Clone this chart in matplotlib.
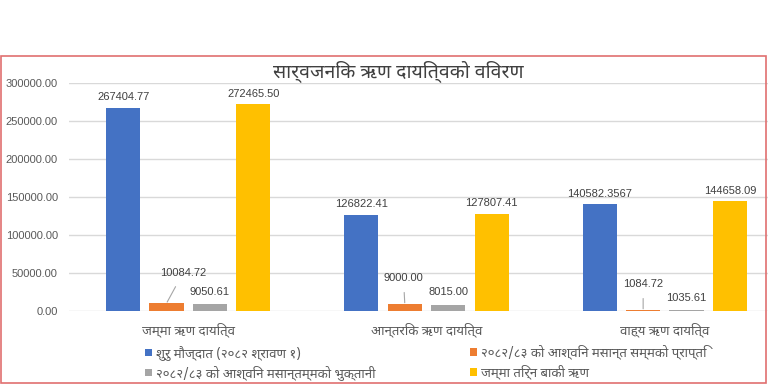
import matplotlib
matplotlib.use("Agg")
import matplotlib.pyplot as plt
from matplotlib import font_manager
from matplotlib.ft2font import FT2Font
from matplotlib.patches import Rectangle
import numpy as np

categories = ["जम्मा ऋण दायित्व", "आन्तरिक ऋण दायित्व", "वाह्य ऋण दायित्व"]
series_names = ["शुरु मौज्दात (२०८२ श्रावण १)",
                "२०८२/८३ को आश्विन मसान्त सम्मको प्राप्ति",
                "२०८२/८३ को आश्विन मसान्तम्मको भुक्तानी",
                "जम्मा तिर्न बाकी ऋण"]
opening = [267404.77, 126822.41, 140582.3567]
received = [10084.72, 9000.00, 1084.72]
paid = [9050.61, 8015.00, 1035.61]
remaining = [272465.50, 127807.41, 144658.09]
opening_labels = ["267404.77", "126822.41", "140582.3567"]
yticks = [0, 50000, 100000, 150000, 200000, 250000, 300000]
title = "सार्वजनिक ऋण दायित्वको विवरण"

colors = ["#4472c4", "#ed7d31", "#a5a5a5", "#ffc000"]


# pick a devanagari font, nicer ones first
def find_deva():
    have = {}
    for f in font_manager.fontManager.ttflist:
        try:
            if 0x0915 in FT2Font(f.fname).get_charmap():
                have[f.name] = 1
        except Exception:
            pass
    for pref in ["Noto Sans Devanagari", "Mukta", "Hind", "Poppins", "Yantramanav",
                 "Martel Sans", "Khula", "Sarala", "Anek Devanagari", "FreeSans"]:
        if pref in have:
            return pref
    return list(have)[0] if have else None

deva = find_deva()
fam = [deva, "Liberation Sans", "DejaVu Sans"] if deva else ["Liberation Sans", "DejaVu Sans"]
plt.rcParams["font.family"] = fam

fig = plt.figure(figsize=(7.68, 3.84), dpi=100)
fig.patches.append(Rectangle((0.001, 0.002), 0.997, 0.852, transform=fig.transFigure,
                             fill=False, edgecolor="#e07070", linewidth=1.2))

ax = fig.add_axes([69 / 768, 1 - 311 / 384, 715 / 768, 228 / 384])
x = np.arange(len(categories))
w = 0.143
offs = [-0.273, -0.091, 0.091, 0.273]
data = [opening, received, paid, remaining]
bars = []
for i, vals in enumerate(data):
    bars.append(ax.bar(x + offs[i], vals, w, color=colors[i], label=series_names[i], zorder=2))

ax.set_ylim(0, 300000)
ax.set_xlim(-0.5, 2.5)
ax.set_yticks(yticks)
ax.set_yticklabels([f"{t:.2f}" for t in yticks], fontsize=8, color="#595959",
                   family=["Liberation Sans"])
ax.set_xticks(x)
ax.set_xticklabels(categories, fontsize=9.5, color="#595959")
ax.tick_params(length=0, pad=8)
ax.tick_params(axis="x", pad=8)
ax.grid(axis="y", color="#d9d9d9", linewidth=1, zorder=0)
for s in ax.spines.values():
    s.set_visible(False)

lab = dict(fontsize=8, color="#404040", ha="center", va="center", family=["Liberation Sans"])
for j in range(3):
    ax.annotate(opening_labels[j], (x[j] + offs[0], opening[j]), xytext=(0, 7.5),
                textcoords="offset points", **lab)
    ax.annotate(f"{remaining[j]:.2f}", (x[j] + offs[3], remaining[j]), xytext=(0, 7.5),
                textcoords="offset points", **lab)
    ax.annotate(f"{paid[j]:.2f}", (x[j] + offs[2], paid[j]), xytext=(0, 9),
                textcoords="offset points", **lab)

# orange labels sit higher with a leader line
orange_off = [(12, 22), (-1, 19), (0, 19)]
for j in range(3):
    ax.annotate(f"{received[j]:.2f}", (x[j] + offs[1], received[j]), xytext=orange_off[j],
                textcoords="offset points",
                arrowprops=dict(arrowstyle="-", color="#a6a6a6", lw=0.8, shrinkA=5, shrinkB=1),
                **lab)

fig.text(398 / 768, 1 - 71 / 384, title, fontsize=14, color="#404040", ha="center", va="center")

leg_kw = dict(loc="upper left", frameon=False, fontsize=9.5, labelcolor="#595959",
              handlelength=0.5, handleheight=0.5, handletextpad=0.35,
              labelspacing=0.4, borderaxespad=0, borderpad=0)
fig.legend(handles=[bars[0], bars[2]], labels=[series_names[0], series_names[2]],
           bbox_to_anchor=(145 / 768, 1 - 345 / 384), **leg_kw)
fig.legend(handles=[bars[1], bars[3]], labels=[series_names[1], series_names[3]],
           bbox_to_anchor=(470 / 768, 1 - 345 / 384), **leg_kw)

fig.savefig("out.png", dpi=100)
